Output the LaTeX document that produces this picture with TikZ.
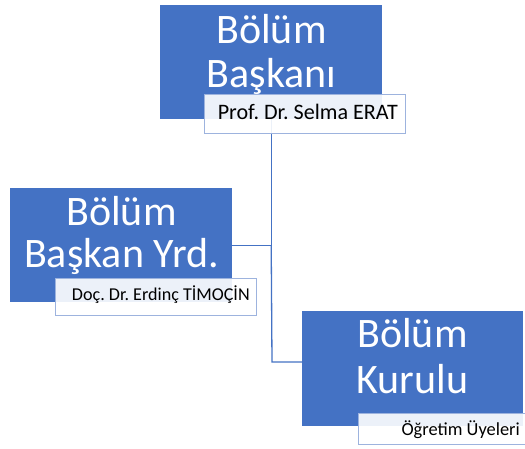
\documentclass[tikz,border=0pt]{standalone}
\usepackage{fontspec}
\setmainfont{Carlito}
\frenchspacing
\definecolor{boxblue}{HTML}{4472C4}
\definecolor{lblborder}{HTML}{9DB3DE}
\begin{document}
\begin{tikzpicture}[x=1pt,y=-1pt,
  bluebox/.style={draw=none,fill=boxblue,inner sep=0pt,anchor=north west},
  lblbox/.style={draw=lblborder,line width=1pt,fill=white,fill opacity=0.9,inner sep=0pt,anchor=north west},
  titletext/.style={text=white,font=\fontsize{42}{44}\selectfont,inner sep=0pt,anchor=base},
  lbltext/.style={text=black,inner sep=0pt,anchor=base east},
  conn/.style={draw=boxblue,line width=1.3pt}]
\clip (0,0) rectangle (525,448);
\fill[white] (0,0) rectangle (525,448);
% blue boxes
\node[bluebox,minimum width=222pt,minimum height=114pt] (top) at (160,5) {};
\node[bluebox,minimum width=222pt,minimum height=114pt] (left) at (10,188) {};
\node[bluebox,minimum width=221pt,minimum height=115pt] (bottom) at (302,311) {};
% titles
\node[titletext] (t1a) at (271.5,43) {Bölüm};
\node[titletext] (t1b) at (271.5,87) {Başkanı};
\node[titletext] (t2a) at (121.5,225) {Bölüm};
\node[titletext] (t2b) at (121.5,267) {Başkan Yrd.};
\node[titletext] (t3a) at (412.5,347) {Bölüm};
\node[titletext] (t3b) at (412.5,393) {Kurulu};
% connectors
\coordinate (jb) at (272,362);
\draw[conn] (top.south) |- (left.east);
\draw[conn] (top.south |- left.east) -- (jb) -- (bottom.west |- jb);
% label boxes
\node[lblbox,minimum width=201pt,minimum height=39pt] (l1) at (204,94) {};
\node[lblbox,minimum width=201pt,minimum height=37pt] (l2) at (55,278) {};
\node[lblbox,minimum width=180pt,minimum height=31pt] (l3) at (358,413) {};
% label texts
\node[lbltext,font=\fontsize{22.1}{24}\selectfont] (x1) at (398,119) {Prof. Dr. Selma ERAT};
\node[lbltext,font=\fontsize{18.1}{20}\selectfont] (x2) at (250,300) {Doç. Dr. Erdinç TİMOÇİN};
\node[lbltext,font=\fontsize{18.4}{20}\selectfont] (x3) at (520,435) {Öğretim Üyeleri};
\end{tikzpicture}
\end{document}
